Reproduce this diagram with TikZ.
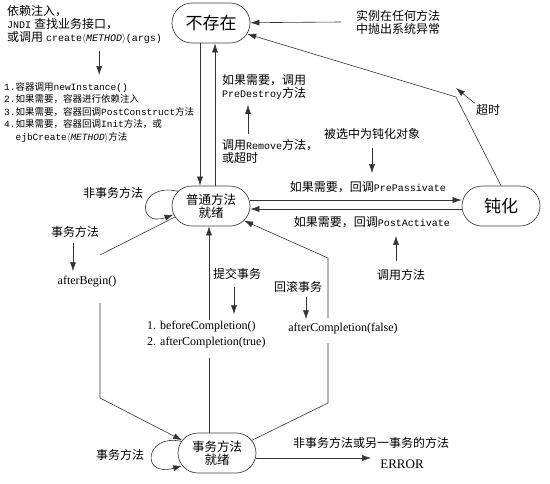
\documentclass[tikz,border=0pt]{standalone}
\usepackage{fontspec}
\setmainfont{Liberation Serif}
\setmonofont{Liberation Mono}
\newfontfamily\cjkfont{Noto Sans CJK SC}
\usetikzlibrary{arrows.meta, shapes.misc}
\newcommand\zh[1]{{\cjkfont #1}}
\newcommand\code[1]{{\ttfamily\fontsize{10}{13}\selectfont #1}}

\begin{document}
\begin{tikzpicture}[
    x=1pt, y=-1pt,
    state/.style={draw=black!75, rounded rectangle, line width=0.7pt,
                  minimum width=82pt, minimum height=40pt, inner sep=2pt,
                  align=center, font=\cjkfont\fontsize{12.5}{13}\selectfont},
    bigstate/.style={state, font=\cjkfont\fontsize{17}{18}\selectfont},
    lbl/.style={font=\fontsize{12}{13}\selectfont, inner sep=1pt, align=left},
    note/.style={lbl, font=\cjkfont\fontsize{12}{13}\selectfont},
    line/.style={draw=black!80, line width=0.6pt},
    arr/.style={line, -{Latex[length=9pt,width=6pt]}},
    cue/.style={arr, shorten <=#1, shorten >=#1},
    cue/.default=4pt
  ]
  \useasboundingbox (0,0) rectangle (550,483);

  % states
  \node[bigstate] (gone)    at (211,23)  {不存在};
  \node[state]    (ready)   at (211,206) {普通方法\\就绪};
  \node[bigstate] (passive) at (501,206) {钝化};
  \node[state]    (txready) at (217,453) {事务方法\\就绪};

  % labels
  \node[lbl, anchor=north west] (inject) at (6,4)
    {\zh{依赖注入，}\\\code{JNDI} \zh{查找业务接口，}\\\zh{或调用} \code{create$\langle$\textit{METHOD}$\rangle$(args)}};
  \node[lbl, anchor=north west, font=\ttfamily\fontsize{9.5}{12.5}\selectfont] (steps) at (3,81)
    {1.\zh{容器调用}newInstance()\\
     2.\zh{如果需要，容器进行依赖注入}\\
     3.\zh{如果需要，容器回调}PostConstruct\zh{方法}\\
     4.\zh{如果需要，容器回调}Init\zh{方法，或}\\
     \phantom{4.}ejbCreate$\langle$\textit{METHOD}$\rangle$\zh{方法}};
  \node[note] (exc) at (398,22) {实例在任何方法\\中抛出系统异常};
  \node[lbl, anchor=west] (predes) at (221,87) {\zh{如果需要，调用}\\\code{PreDestroy}\zh{方法}};
  \node[lbl, anchor=west] (rmv) at (221,151) {\zh{调用}\code{Remove}\zh{方法，}\\\zh{或超时}};
  \node[note] (chosen)   at (372,134) {被选中为钝化对象};
  \node[lbl]  (prepass)  at (368,187) {\zh{如果需要，回调}\code{PrePassivate}};
  \node[lbl]  (postact)  at (372,222) {\zh{如果需要，回调}\code{PostActivate}};
  \node[note] (callm)    at (401,275) {调用方法};
  \node[note] (tmo)      at (488,110) {超时};
  \node[note] (ntx)      at (113,193) {非事务方法};
  \node[note] (txm)      at (75,232)  {事务方法};
  \node[lbl]  (begin)    at (87,282)  {afterBegin()};
  \node[note] (commit)   at (237,274) {提交事务};
  \node[lbl, anchor=west, font=\fontsize{12}{16}\selectfont] (done) at (146,335)
    {1. beforeCompletion()\\2. afterCompletion(true)};
  \node[note] (rollback) at (298,287) {回滚事务};
  \node[lbl]  (failed)   at (343,329) {afterCompletion(false)};
  \node[note] (txself)   at (120,455) {事务方法};
  \node[note] (other)    at (371,443) {非事务方法或另一事务的方法};
  \node[lbl, font=\fontsize{13}{14}\selectfont] (error) at (402,464) {ERROR};

  % bends
  \coordinate (bend) at (456,97);
  \coordinate (tmotip) at (456,88);
  \coordinate (b1) at (100,255);
  \coordinate (b2) at (100,303);
  \coordinate (b3) at (100,398);
  \coordinate (c1) at (209,320);
  \coordinate (c2) at (209,358);
  \coordinate (r1) at (328,258);
  \coordinate (r2) at (328,318);
  \coordinate (r3) at (328,343);
  \coordinate (r4) at (328,403);

  % transitions
  \draw[arr] ([xshift=-11pt]gone.south) -- ([xshift=-11pt]ready.north);
  \draw[arr] ([xshift=4pt]ready.north) -- ([xshift=4pt]gone.south);
  \draw[arr] ([xshift=-14pt]exc.west) -- (gone);
  \draw[arr] (passive.north) -- (bend) -- (gone);
  \draw[arr] ([yshift=6pt]ready.east) -- ([yshift=6pt]passive.west);
  \draw[arr] ([yshift=-3pt]passive.west) -- ([yshift=-3pt]ready.east);
  \draw[arr] (ready.156) .. controls (138,182) and (136,228) .. (ready.193);
  \draw[line] (ready.197) -- (b1);
  \draw[arr] (b2) -- (b3) -- (txready.160);
  \draw[arr] (c1) -- (c1 |- ready.south);
  \draw[line] (c2) -- (c2 |- txready.north);
  \draw[arr] (r2) -- (r1) -- (ready);
  \draw[line] (txready.20) -- (r4) -- (r3);
  \draw[arr] (txready.162) .. controls (145,433) and (140,478) .. (txready.200);
  \draw[arr, shorten >=8pt] ([yshift=-5pt]txready.east) -- ([yshift=-5pt]txready.east -| error.west);

  % cues
  \draw[cue=6pt] (inject.south -| steps.north) -- (steps.north);
  \draw[cue=4pt] ([xshift=27pt]rmv.north west) -- ([xshift=27pt]predes.south west);
  \draw[cue=7pt] (chosen.south) -- (chosen.south |- prepass.north);
  \draw[cue=7pt] ([xshift=-5pt]callm.north) -- ([xshift=-5pt]callm.north |- postact.south);
  \draw[arr] (tmo.north west) -- (tmotip);
  \draw[cue=4pt] ([xshift=-2pt]txm.south) -- ([xshift=-2pt]txm.south |- begin.north);
  \draw[cue=6pt] ([xshift=-3pt]commit.south) -- ([xshift=-3pt]commit.south |- done.north);
  \draw[cue=3pt] ([xshift=8pt]rollback.south) -- ([xshift=8pt]rollback.south |- failed.north);
\end{tikzpicture}
\end{document}
